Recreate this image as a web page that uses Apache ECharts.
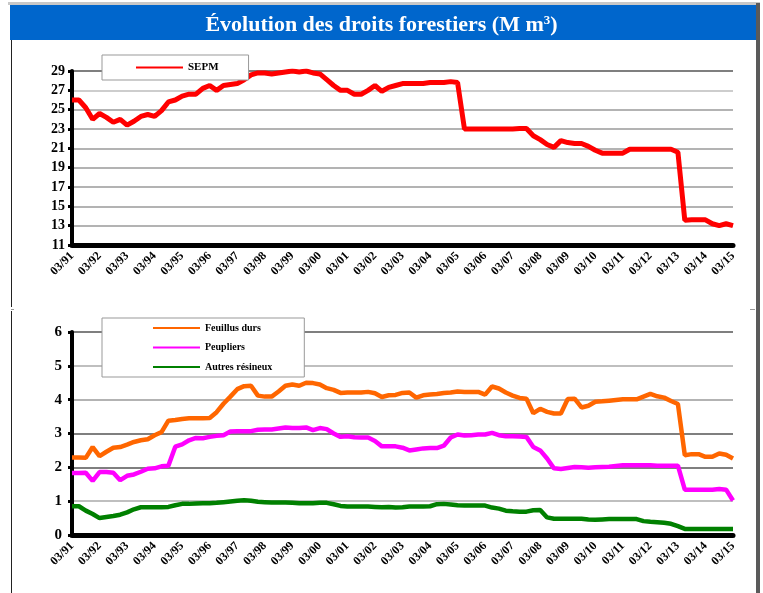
<!DOCTYPE html>
<html>
<head>
<meta charset="UTF-8">
<title>droits forestiers</title>
<script src="https://cdn.jsdelivr.net/npm/echarts@6/dist/echarts.min.js"></script>
<style type="text/css">
    body{margin:0;padding:0;background:#fff;}
    #main{width:763px;height:593px;}
</style>
</head>
<body>
<div id="main"></div>
<script type="text/javascript">
// quarterly points 03/91 .. 03/15
var years = ['91','92','93','94','95','96','97','98','99','00','01','02','03','04','05','06','07','08','09','10','11','12','13','14','15'];
var months = ['03','06','09','12'];

var sepm = [26.0, 26.0, 25.2, 24.0, 24.6, 24.2, 23.7, 24.0, 23.4,
    23.8, 24.3, 24.5, 24.3, 24.9, 25.8, 26.0, 26.4,
    26.6, 26.6, 27.2, 27.5, 27.0, 27.5, 27.6, 27.7,
    28.1, 28.6, 28.8, 28.8, 28.7, 28.8, 28.9, 29.0,
    28.9, 29.0, 28.8, 28.7, 28.1, 27.5, 27.0, 27.0,
    26.6, 26.6, 27.0, 27.5, 26.9, 27.3, 27.5, 27.7,
    27.7, 27.7, 27.7, 27.8, 27.8, 27.8, 27.9, 27.8,
    23.0, 23.0, 23.0, 23.0, 23.0, 23.0, 23.0, 23.0,
    23.05, 23.05, 22.3, 21.9, 21.4, 21.1, 21.8, 21.6,
    21.5, 21.5, 21.2, 20.8, 20.5, 20.5, 20.5, 20.5,
    20.9, 20.9, 20.9, 20.9, 20.9, 20.9, 20.9, 20.6,
    13.55, 13.6, 13.6, 13.6, 13.2, 13.0, 13.2, 13.0];

var feuillus = [2.29, 2.29, 2.28, 2.6, 2.33, 2.46, 2.58, 2.6, 2.67,
    2.75, 2.8, 2.83, 2.95, 3.04, 3.38, 3.4, 3.43,
    3.45, 3.45, 3.45, 3.46, 3.63, 3.88, 4.09, 4.31,
    4.4, 4.41, 4.12, 4.09, 4.09, 4.24, 4.41, 4.45,
    4.41, 4.5, 4.49, 4.45, 4.34, 4.29, 4.2, 4.21,
    4.21, 4.21, 4.23, 4.19, 4.08, 4.13, 4.14, 4.2,
    4.21, 4.06, 4.13, 4.15, 4.17, 4.2, 4.21, 4.24,
    4.23, 4.23, 4.23, 4.15, 4.39, 4.33, 4.21, 4.12,
    4.05, 4.03, 3.6, 3.73, 3.64, 3.59, 3.59, 4.02,
    4.03, 3.77, 3.82, 3.94, 3.95, 3.97, 3.99, 4.01,
    4.01, 4.01, 4.09, 4.17, 4.1, 4.06, 3.96, 3.87,
    2.36, 2.39, 2.39, 2.31, 2.31, 2.41, 2.37, 2.26];

var peupliers = [1.83, 1.83, 1.84, 1.6, 1.86, 1.86, 1.84, 1.62, 1.75,
    1.79, 1.87, 1.96, 1.97, 2.03, 2.05, 2.61, 2.68,
    2.8, 2.87, 2.86, 2.9, 2.93, 2.95, 3.06, 3.07,
    3.07, 3.07, 3.11, 3.12, 3.12, 3.15, 3.18, 3.16,
    3.16, 3.18, 3.1, 3.16, 3.13, 3.0, 2.9, 2.92,
    2.89, 2.88, 2.88, 2.78, 2.62, 2.62, 2.62, 2.58,
    2.5, 2.53, 2.56, 2.57, 2.57, 2.64, 2.88, 2.97,
    2.94, 2.95, 2.97, 2.97, 3.02, 2.95, 2.92, 2.92,
    2.91, 2.9, 2.6, 2.5, 2.26, 1.97, 1.95, 1.98,
    2.01, 2.0, 1.99, 2.0, 2.01, 2.02, 2.04, 2.06,
    2.06, 2.06, 2.06, 2.06, 2.05, 2.05, 2.05, 2.05,
    1.34, 1.34, 1.34, 1.34, 1.34, 1.36, 1.34, 1.02];

var resineux = [0.85, 0.85, 0.72, 0.62, 0.5, 0.53, 0.56, 0.6, 0.67,
    0.76, 0.82, 0.82, 0.82, 0.82, 0.83, 0.88, 0.92,
    0.92, 0.93, 0.94, 0.94, 0.95, 0.97, 0.99, 1.01,
    1.03, 1.01, 0.98, 0.97, 0.96, 0.96, 0.96, 0.95,
    0.94, 0.94, 0.94, 0.95, 0.95, 0.91, 0.86, 0.84,
    0.84, 0.84, 0.84, 0.83, 0.82, 0.83, 0.81, 0.82,
    0.84, 0.84, 0.84, 0.85, 0.91, 0.92, 0.9, 0.88,
    0.87, 0.87, 0.87, 0.87, 0.81, 0.78, 0.72, 0.7,
    0.69, 0.69, 0.73, 0.74, 0.52, 0.48, 0.48, 0.48,
    0.48, 0.48, 0.46, 0.45, 0.46, 0.47, 0.47, 0.47,
    0.47, 0.47, 0.41, 0.39, 0.38, 0.36, 0.33, 0.26,
    0.18, 0.18, 0.18, 0.18, 0.18, 0.18, 0.18, 0.18];

var categories = [];
for (var y = 0; y < years.length; y++) {
    for (var m = 0; m < months.length; m++) {
        if (y == years.length - 1 && m > 0) break;
        categories.push(months[m] + '/' + years[y]);
    }
}

var serif = '"Liberation Serif", "Times New Roman", serif';

function xAxisOf(gridIdx) {
    return {
        type: 'category', gridIndex: gridIdx, data: categories, boundaryGap: false,
        axisLine: {lineStyle: {color: '#000', width: 5}},
        axisTick: {show: true, interval: 0, length: 2, lineStyle: {color: '#000', width: 1}},
        axisLabel: {interval: 3, rotate: 45, color: '#000', fontFamily: serif, fontWeight: 'bold', fontSize: 12, margin: 9},
        splitLine: {show: false}
    };
}

var chart = echarts.init(document.getElementById('main'));
chart.setOption({
    backgroundColor: '#fff',
    animation: false,
    title: {
        text: '{a|Évolution des droits forestiers (M m}{s|3}{a|)}',
        left: 'center', top: 9,
        textStyle: {
            rich: {
                a: {color: '#fff', fontFamily: serif, fontWeight: 'bold', fontSize: 22},
                s: {color: '#fff', fontFamily: serif, fontWeight: 'bold', fontSize: 13, verticalAlign: 'top', padding: [0, 0, 10, 0]}
            }
        }
    },
    graphic: [
        {type: 'rect', shape: {x: 8, y: 2, width: 752, height: 3}, style: {fill: '#c8c8c8'}, z: -1},
        {type: 'rect', shape: {x: 10, y: 5, width: 746, height: 35}, style: {fill: '#0066CC'}, z: -1},
        {type: 'rect', shape: {x: 756, y: 3, width: 4, height: 590}, style: {fill: '#5a5a5a'}, z: -1},
        {type: 'line', shape: {x1: 11.5, y1: 40, x2: 11.5, y2: 307}, style: {stroke: '#222', lineWidth: 1}},
        {type: 'line', shape: {x1: 11.5, y1: 311, x2: 11.5, y2: 593}, style: {stroke: '#222', lineWidth: 1}},
        {type: 'line', shape: {x1: 11, y1: 309.5, x2: 14, y2: 309.5}, style: {stroke: '#999', lineWidth: 1}},
        {type: 'line', shape: {x1: 750, y1: 309.5, x2: 755, y2: 309.5}, style: {stroke: '#999', lineWidth: 1}}
    ],
    legend: [
        {
            data: ['SEPM'], left: 102, top: 55, orient: 'vertical',
            backgroundColor: '#fff', borderColor: '#999', borderWidth: 1,
            padding: [7, 30, 7, 34], itemWidth: 47, itemHeight: 12, icon: 'path://M0,5L47,5L47,7L0,7Z',
            textStyle: {color: '#000', fontFamily: serif, fontWeight: 'bold', fontSize: 11}
        },
        {
            data: ['Feuillus durs', 'Peupliers', 'Autres résineux'], left: 102, top: 318, orient: 'vertical',
            backgroundColor: '#fff', borderColor: '#999', borderWidth: 1,
            padding: [5, 32, 5, 51], itemWidth: 47, itemHeight: 12, itemGap: 9.5, icon: 'path://M0,5L47,5L47,7L0,7Z',
            textStyle: {color: '#000', fontFamily: serif, fontWeight: 'bold', fontSize: 10}
        }
    ],
    grid: [
        {left: 72, right: 30, top: 71, height: 174},
        {left: 72, right: 30, top: 332, height: 203}
    ],
    xAxis: [xAxisOf(0), xAxisOf(1)],
    yAxis: [
        {
            type: 'value', gridIndex: 0, min: 11, max: 29, interval: 2,
            axisLine: {show: true, lineStyle: {color: '#000', width: 4}},
            axisTick: {show: true, length: 4, lineStyle: {color: '#000', width: 3}},
            axisLabel: {color: '#000', fontFamily: serif, fontWeight: 'bold', fontSize: 14, margin: 7},
            splitLine: {lineStyle: {color: ['#9a9a9a', '#9a9a9a', '#9a9a9a', '#9a9a9a', '#9a9a9a', '#9a9a9a', '#9a9a9a', '#9a9a9a', '#bdbdbd', '#555'], width: 1.5}}
        },
        {
            type: 'value', gridIndex: 1, min: 0, max: 6, interval: 1,
            axisLine: {show: true, lineStyle: {color: '#000', width: 4}},
            axisTick: {show: true, length: 4, lineStyle: {color: '#000', width: 3}},
            axisLabel: {color: '#000', fontFamily: serif, fontWeight: 'bold', fontSize: 15, margin: 10},
            splitLine: {lineStyle: {color: ['#999', '#aaa', '#555', '#555', '#9a9a9a', '#aaa', '#555'], width: 1.5}}
        }
    ],
    series: [
        {name: 'SEPM', type: 'line', xAxisIndex: 0, yAxisIndex: 0, data: sepm, symbol: 'none',
            itemStyle: {color: '#FF0000'}, lineStyle: {color: '#FF0000', width: 5}},
        {name: 'Feuillus durs', type: 'line', xAxisIndex: 1, yAxisIndex: 1, data: feuillus, symbol: 'none',
            itemStyle: {color: '#FF6600'}, lineStyle: {color: '#FF6600', width: 4.5}},
        {name: 'Peupliers', type: 'line', xAxisIndex: 1, yAxisIndex: 1, data: peupliers, symbol: 'none',
            itemStyle: {color: '#FF00FF'}, lineStyle: {color: '#FF00FF', width: 4.5}},
        {name: 'Autres résineux', type: 'line', xAxisIndex: 1, yAxisIndex: 1, data: resineux, symbol: 'none',
            itemStyle: {color: '#008000'}, lineStyle: {color: '#008000', width: 4.5}}
    ]
});
</script>
</body>
</html>
